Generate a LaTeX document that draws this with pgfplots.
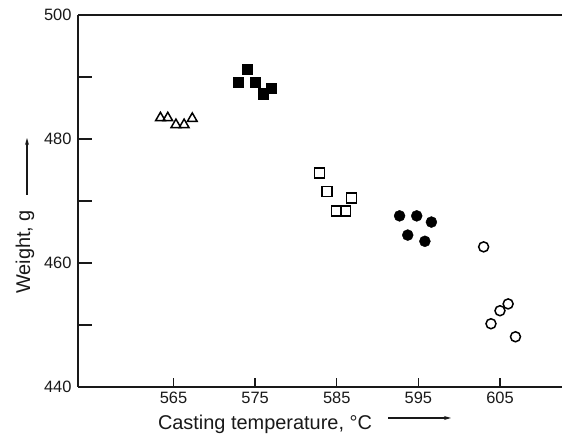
\documentclass[border=0pt]{standalone}
\usepackage{pgfplots}
\pgfplotsset{compat=1.18}
\usepackage{fontspec}
\setmainfont{Liberation Sans}
\usetikzlibrary{arrows.meta,calc}
\begin{document}
\begin{tikzpicture}
\begin{axis}[
  name=ax,
  at={(0,0)}, anchor=south west,
  scale only axis,
  width=484bp, height=372bp,
  xmin=553.3, xmax=612.6,
  ymin=440, ymax=500,
  axis lines=left,
  axis line style={-, line width=1.8bp, black!90},
  xtick=\empty,
  extra x ticks={565,575,585,595,605},
  extra x tick style={major tick length=9bp},
  ytick={440,460,480,500},
  minor ytick={450,470,490},
  tick align=inside,
  tick style={line width=1.3bp, black!90},
  major tick length=14bp, minor tick length=14bp,
  /pgf/number format/assume math mode=true,
  /pgf/number format/1000 sep={},
  ticklabel style={font=\fontsize{16.5}{19}\selectfont, text=black!90},
  xticklabel style={yshift=-2bp},
  yticklabel style={xshift=-3bp},
  clip=false,
]
\addplot[only marks, mark=triangle, mark size=5.6bp, mark options={line width=1.5bp, draw=black, fill=white}]
  coordinates {(563.4,483.4) (564.3,483.4) (565.3,482.3) (566.3,482.3) (567.3,483.3)};
\addplot[only marks, mark=square*, mark size=5.2bp, mark options={draw=black, fill=black}]
  coordinates {(572.9,489.2) (574.0,491.3) (575.0,489.2) (576.0,487.3) (576.95,488.2)};
\addplot[only marks, mark=square, mark size=5bp, mark options={line width=1.5bp, draw=black, fill=white}]
  coordinates {(582.9,474.5) (583.8,471.5) (585.0,468.4) (586.1,468.4) (586.8,470.5)};
\addplot[only marks, mark=*, mark size=5.5bp, mark options={draw=black, fill=black}]
  coordinates {(592.7,467.6) (594.8,467.6) (596.6,466.6) (593.7,464.5) (595.8,463.5)};
\addplot[only marks, mark=o, mark size=5bp, mark options={line width=1.5bp, draw=black, fill=white}]
  coordinates {(603.0,462.6) (606.0,453.4) (605.0,452.3) (603.9,450.2) (606.9,448.1)};
\end{axis}
\draw[line width=1.8bp, black!90] (ax.north west) -- (ax.north east);
\node[rotate=90, text=black!90, font=\fontsize{20}{24}\selectfont] at ($(ax.south west)+(-53bp,135bp)$) {Weight, g};
\draw[line width=1.1bp, black!90, -{Stealth[length=7bp,width=4bp]}] ($(ax.south west)+(-51bp,192bp)$) -- ($(ax.south west)+(-51bp,249bp)$);
\node[text=black!90, font=\fontsize{20}{24}\selectfont] at ($(ax.south west)+(187bp,-37bp)$) {Casting temperature, °C};
\draw[line width=1.1bp, black!90, -{Stealth[length=7bp,width=4bp]}] ($(ax.south west)+(310bp,-31bp)$) -- ($(ax.south west)+(373bp,-31bp)$);
\pgfresetboundingbox
\path[use as bounding box] ($(ax.south west)+(-78bp,-48bp)$) rectangle ($(ax.north east)+(0,15bp)$);
\end{tikzpicture}
\end{document}
